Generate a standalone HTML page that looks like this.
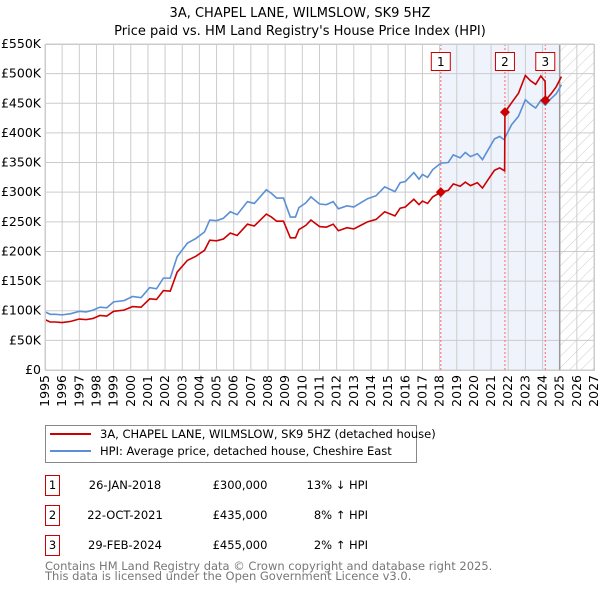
<!DOCTYPE html>
<html><head><meta charset="utf-8"><style>
body{margin:0;background:#fff;font-family:"Liberation Sans","DejaVu Sans",sans-serif;}
svg{display:block}
</style></head><body>
<svg id="chart" width="600" height="590" xmlns="http://www.w3.org/2000/svg" font-family="'DejaVu Sans','Liberation Sans',sans-serif">
<defs><pattern id="hatch" width="8" height="8" patternUnits="userSpaceOnUse" patternTransform="rotate(45)"><line x1="0" y1="0" x2="0" y2="8" stroke="#ccc" stroke-width="1"/></pattern></defs>
<text x="300" y="17" text-anchor="middle" font-size="13">3A, CHAPEL LANE, WILMSLOW, SK9 5HZ</text>
<text x="300" y="35" text-anchor="middle" font-size="13">Price paid vs. HM Land Registry's House Price Index (HPI)</text>
<g id="plot"></g>
<g>
<rect x="45.5" y="425.5" width="371" height="37" fill="#fff" stroke="#888"/>
<line x1="50" y1="434" x2="91" y2="434" stroke="#cc0000" stroke-width="2"/>
<text x="100" y="438" font-size="11.5">3A, CHAPEL LANE, WILMSLOW, SK9 5HZ (detached house)</text>
<line x1="50" y1="451" x2="91" y2="451" stroke="#5b8fd6" stroke-width="2"/>
<text x="100" y="455" font-size="11.5">HPI: Average price, detached house, Cheshire East</text>
</g>
<g font-size="11.5">
<rect x="45.5" y="475.5" width="14" height="20" fill="#fff" stroke="#cc0000"/><text x="52.5" y="489" text-anchor="middle">1</text>
<text x="125" y="489" text-anchor="middle">26-JAN-2018</text><text x="240" y="489" text-anchor="middle">£300,000</text><text x="368" y="489" text-anchor="end">13% ↓ HPI</text>
<rect x="45.5" y="505.5" width="14" height="20" fill="#fff" stroke="#cc0000"/><text x="52.5" y="519" text-anchor="middle">2</text>
<text x="125" y="519" text-anchor="middle">22-OCT-2021</text><text x="240" y="519" text-anchor="middle">£435,000</text><text x="368" y="519" text-anchor="end">8% ↑ HPI</text>
<rect x="45.5" y="535.5" width="14" height="20" fill="#fff" stroke="#cc0000"/><text x="52.5" y="549" text-anchor="middle">3</text>
<text x="125" y="549" text-anchor="middle">29-FEB-2024</text><text x="240" y="549" text-anchor="middle">£455,000</text><text x="368" y="549" text-anchor="end">2% ↑ HPI</text>
</g>
<text x="45" y="570" font-size="11.5" fill="#777">Contains HM Land Registry data © Crown copyright and database right 2025.</text>
<text x="45" y="580" font-size="11.5" fill="#777">This data is licensed under the Open Government Licence v3.0.</text>
</svg>
<script>
const years=[1995.0,1995.3,1995.6,1996.0,1996.5,1997.0,1997.4,1997.8,1998.2,1998.6,1999.0,1999.6,2000.1,2000.6,2001.1,2001.5,2001.9,2002.3,2002.7,2003.3,2003.8,2004.3,2004.6,2005.0,2005.4,2005.8,2006.2,2006.8,2007.2,2007.9,2008.2,2008.5,2008.9,2009.3,2009.6,2009.8,2010.2,2010.5,2011.0,2011.4,2011.8,2012.1,2012.6,2013.0,2013.4,2013.8,2014.3,2014.8,2015.4,2015.7,2016.0,2016.5,2016.8,2017.0,2017.3,2017.6,2018.07,2018.5,2018.8,2019.2,2019.5,2019.8,2020.2,2020.5,2020.8,2021.2,2021.5,2021.79,2021.81,2022.2,2022.6,2023.0,2023.3,2023.6,2023.9,2024.15,2024.17,2024.5,2024.8,2025.1];
const hpi=[98,94,94,93,95,99,98,101,106,105,115,117,124,122,139,137,155,155,191,214,222,233,253,252,256,267,262,284,281,304,298,290,290,258,258,274,282,292,280,279,284,272,277,275,282,289,294,309,301,316,318,333,322,330,325,338,349,350,363,358,367,360,365,355,370,390,394,388,392,414,428,456,448,442,455,447,447,458,466,481];
const price=[85,81,81,80,82,86,85,87,92,91,99,101,107,106,120,119,134,133,165,185,192,202,219,218,221,231,227,246,243,263,258,251,251,223,223,237,244,253,242,241,246,235,240,238,244,250,254,267,260,273,275,288,279,285,281,292,300,303,314,310,317,311,316,307,320,337,341,336,435,451,467,497,488,482,496,487,455,466,478,495];
const saleYears=[2018.07,2021.81,2024.16];
const saleValues=[300,435,455];
const yTicks=[0,50,100,150,200,250,300,350,400,450,500,550];
const xTicks=[1995,1996,1997,1998,1999,2000,2001,2002,2003,2004,2005,2006,2007,2008,2009,2010,2011,2012,2013,2014,2015,2016,2017,2018,2019,2020,2021,2022,2023,2024,2025,2026,2027];
const X0=45,X1=594,Y0=370,Y1=44;
const xs=y=>X0+(y-1995)/(2027-1995)*(X1-X0);
const ys=v=>Y0-v/550*(Y0-Y1);
const NS="http://www.w3.org/2000/svg";
const plot=document.getElementById('plot');
function mk(t,a){const e=document.createElementNS(NS,t);for(const k in a)e.setAttribute(k,a[k]);plot.appendChild(e);return e;}
let e;
e=mk('rect',{x:xs(saleYears[0]),y:Y1,width:xs(2025)-xs(saleYears[0]),height:Y0-Y1,fill:'#eef3fc'});


e=mk('rect',{x:xs(2025),y:Y1,width:X1-xs(2025),height:Y0-Y1,fill:'url(#hatch)'});


yTicks.forEach(v=>{
 e=mk('line',{x1:X0,x2:X1,y1:ys(v),y2:ys(v),stroke:'#ccc'});
 
 
 e=mk('text',{x:X0-4,y:ys(v)+4,'text-anchor':'end','font-size':'12.5'});
 e.textContent=v===0?'£0':'£'+v+'K';
 
 
});
xTicks.forEach(y=>{
 e=mk('line',{x1:xs(y),x2:xs(y),y1:Y1,y2:Y0,stroke:'#ccc'});
 
 
 e=mk('text',{x:0,y:0,'text-anchor':'end','font-size':'12.5',transform:`translate(${xs(y)+4},${Y0+5}) rotate(-90)`});
 e.textContent=y;
 
 
});
e=mk('line',{x1:xs(2025),x2:xs(2025),y1:Y1,y2:Y0,stroke:'#999','stroke-width':1.5});


saleYears.forEach((y,i)=>{
 e=mk('line',{x1:xs(y),x2:xs(y),y1:Y1,y2:Y0,stroke:'#ff6666','stroke-dasharray':'2,2'});
 
 
});
e=mk('polyline',{points:years.map((y,i)=>xs(y)+','+ys(hpi[i])).join(' '),fill:'none',stroke:'#5b8fd6','stroke-width':1.6});


e=mk('polyline',{points:years.map((y,i)=>xs(y)+','+ys(price[i])).join(' '),fill:'none',stroke:'#cc0000','stroke-width':1.6});


saleYears.forEach((y,i)=>{
 const cx=xs(y),cy=ys(saleValues[i]);
 e=mk('polygon',{points:`${cx},${cy-5} ${cx+5},${cy} ${cx},${cy+5} ${cx-5},${cy}`,fill:'#cc0000'});
 
 
 e=mk('rect',{x:cx-10+.5,y:52.5,width:19,height:18,fill:'#fff',stroke:'#cc0000'});
 
 
 e=mk('text',{x:cx,y:66,'text-anchor':'middle','font-size':'12'});
 e.textContent=String(i+1);
 
 
});
e=mk('rect',{x:X0+.5,y:Y1+.5,width:X1-X0,height:Y0-Y1,fill:'none',stroke:'#ccc'});


</script>
</body></html>
